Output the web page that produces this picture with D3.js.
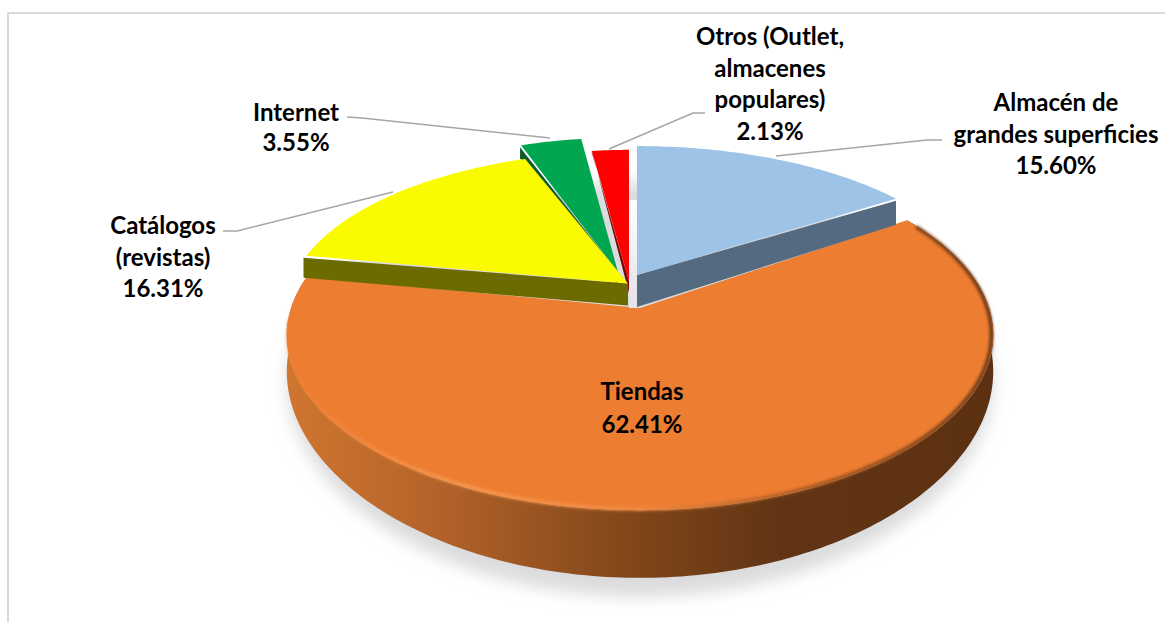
<!DOCTYPE html>
<html><head><meta charset="utf-8">
<script src="https://cdn.jsdelivr.net/npm/d3@7/dist/d3.min.js"></script>
<style>html,body{margin:0;padding:0;background:#fff}svg{display:block}text{font-family:Lato,"Open Sans",sans-serif;font-weight:700;fill:#000;font-size:24px}</style>
</head><body><svg id="c" width="1165" height="622"></svg>
<script>
// ---- data ----
const categories = ["Almacén de grandes superficies","Tiendas","Catálogos (revistas)","Internet","Otros (Outlet, almacenes populares)"];
const values = [15.60,62.41,16.31,3.55,2.13];
const valueLabels = ["15.60%","62.41%","16.31%","3.55%","2.13%"];
const labelLines = [["Almacén de","grandes superficies"],["Tiendas"],["Catálogos","(revistas)"],["Internet"],["Otros (Outlet,","almacenes","populares)"]];
// ---- layout / style ----
const W=1165,H=622;
const colors=["#9dc3e6","#ed7d31","#fbfb00","#00a650","#ff0000"];
const wallColors=["#546a80",null,"#6b6b00","#0b5a2e","#7a0a0a"];
const apex=[[637,275],[640,308],[628,283.5],[618,272],[629,281]];
const shrink=[[.97,.87],[1,1],[.965,.89],[.91,.905],[.92,.885]];
const wallAt=["end",null,"start","start","start"];
const wallDepth=[[32,26],null,[22,22],[15,13],[12,0]];
const wallDx=[0,0,-3,-1,0];
const labelX=[1056,642,163,296,770];
const labelY=[111,400,234,121,45];
const lineGap=[31.5,33,31.5,30,31.5];
const leaders=[[[776,156],[927,140],[942,140]],null,[[393,192],[237,231],[223,231]],[[550,138],[362,118],[347,117]],[[609,149],[693,113],[705,113]]];
const k=.154,Rx=349,Sy=171,D0=33,dn=4.3;

const svg=d3.select("#c");
const defs=svg.append("defs");
const blur=(id,s)=>defs.append("filter").attr("id",id).attr("x","-20%").attr("y","-20%").attr("width","140%").attr("height","140%").append("feGaussianBlur").attr("stdDeviation",s);
blur("b8",8);blur("b2",1.8);
const grad=(id,stops,x1,x2)=>{const g=defs.append("linearGradient").attr("id",id).attr("gradientUnits","userSpaceOnUse").attr("x1",x1).attr("x2",x2).attr("y1",0).attr("y2",0);
 stops.forEach(s=>g.append("stop").attr("offset",s[0]).attr("stop-color",s[1]));};
grad("side",[[0,"#cf7630"],[.2,"#b5642a"],[.5,"#7f4519"],[.7,"#613414"],[1,"#5c3112"]],288,992);
grad("rim",[[0,"#ed7d31"],[.25,"#f6994f"],[.5,"#f08a44"],[.72,"#a65a24"],[1,"#5f3314"]],288,992);
const sv=defs.append("linearGradient").attr("id","strip").attr("x1",0).attr("x2",0).attr("y1",0).attr("y2",1);
sv.append("stop").attr("offset",0).attr("stop-color","#ffffff");sv.append("stop").attr("offset",1).attr("stop-color","#e2e2e8");

// frame
svg.append("path").attr("d","M8,622V13H1165").attr("fill","none").attr("stroke","#d9d9d9").attr("stroke-width",2);

const arcs=d3.pie().sort(null).value(d=>d)(values);
const proj=(a,r=1)=>{const X=r*Math.sin(a),Y=-r*Math.cos(a),w=1-k*Y;return {x:Rx*X/w,y:Sy*Y/w,d:D0/Math.pow(w,dn)};};
const line=d3.line().x(p=>p[0]).y(p=>p[1]);
const place=(i,p)=>[apex[i][0]+shrink[i][0]*p.x,apex[i][1]+shrink[i][1]*p.y];
const samples=(a0,a1)=>{const n=Math.max(8,Math.ceil((a1-a0)*60));return d3.range(n+1).map(j=>a0+(a1-a0)*j/n);};
const facePts=(i)=>{const s=arcs[i];return [apex[i],...samples(s.startAngle,s.endAngle).map(a=>place(i,proj(a)))];};

// Tiendas (index 1): shadow, side, face
const o=arcs[1],as=samples(o.startAngle,o.endAngle);
const shadowAngles=samples(0,2*Math.PI);
svg.append("path").attr("d",line(shadowAngles.map(a=>{const p=proj(a);return [apex[1][0]+p.x,apex[1][1]+p.y+p.d*1.28];}))+"Z").attr("fill","#dcdcde").attr("filter","url(#b8)");
const edgeTop=as.map(a=>place(1,proj(a)));
const edgeBot=as.map(a=>{const p=proj(a);const q=place(1,p);return [q[0],q[1]+p.d];});
svg.append("path").attr("d",line([...edgeTop,...edgeBot.reverse()])+"Z").attr("fill","url(#side)");
svg.append("path").attr("d",line(facePts(1))+"Z").attr("fill",colors[1]);
const rimA=samples(o.startAngle+.05,o.endAngle-.25);
svg.append("path").attr("d",line(rimA.map(a=>place(1,proj(a,.995))))).attr("fill","none").attr("stroke","url(#rim)").attr("stroke-width",3.5).attr("filter","url(#b2)");

// strip between the exploded slices
svg.append("rect").attr("x",apex[4][0]).attr("y",200).attr("width",apex[0][0]-apex[4][0]+1).attr("height",apex[1][1]-200).attr("fill","url(#strip)");

// other slices, back to front
[4,3,2,0].forEach(i=>{
  const s=arcs[i],a=wallAt[i]==="start"?s.startAngle:s.endAngle;
  const outer=place(i,proj(a)),d=wallDepth[i],dx=wallDx[i];
  svg.append("path").attr("d",line([apex[i],[outer[0]+dx,outer[1]+2],[outer[0]+dx,outer[1]+d[1]],[apex[i][0],apex[i][1]+d[0]]])+"Z").attr("fill",wallColors[i]);
  svg.append("path").attr("d",line(facePts(i))+"Z").attr("fill",colors[i]);
});

// leader lines
leaders.forEach(l=>{if(l)svg.append("path").attr("d",line(l)).attr("fill","none").attr("stroke","#a6a6a6").attr("stroke-width",1.6);});

// labels
categories.forEach((c,i)=>{
  const t=svg.append("text").attr("text-anchor","middle");
  [...labelLines[i],valueLabels[i]].forEach((s,j)=>t.append("tspan").attr("x",labelX[i]).attr("y",labelY[i]+j*lineGap[i]).text(s));
});
</script></body></html>
